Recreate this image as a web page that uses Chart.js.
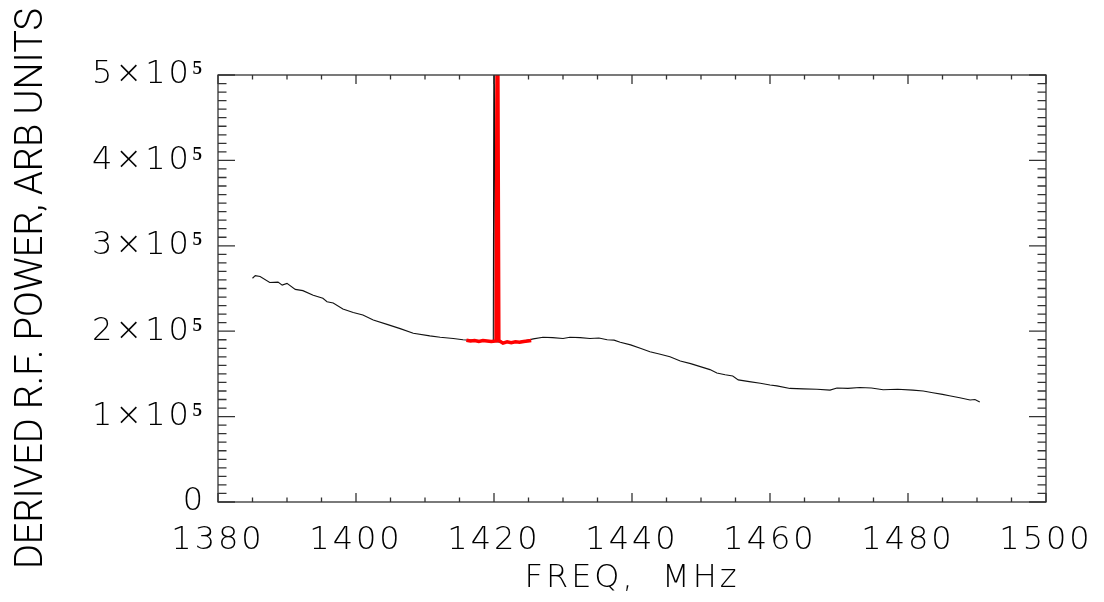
<!DOCTYPE html>
<html lang="en">

<head>
    <meta charset="UTF-8">
    <title>Derived RF power</title>
    <script src="https://cdn.jsdelivr.net/npm/chart.js/dist/chart.umd.min.js"></script>
    <style>
        body { margin: 0; background: #fff; overflow: hidden; }
    </style>
</head>

<body>
    <canvas id="myChart" width="1104" height="602"></canvas>
    <script>
        // full spectrum (black)
        const freqAll = [1385.0, 1385.4, 1386.1, 1387.5, 1388.7, 1389.3, 1390.0, 1391.2, 1392.3, 1393.8,
            1395.2, 1395.8, 1396.7, 1398.1, 1399.6, 1401.0, 1402.5, 1404.5, 1406.4, 1408.3,
            1410.7, 1412.2, 1414.1, 1415.5, 1416.5, 1418.0, 1419.5, 1419.9, 1420.0, 1420.2,
            1421.3, 1422.8, 1424.3, 1425.7, 1427.1, 1428.5, 1430.0, 1431.0, 1432.5, 1433.9,
            1435.2, 1436.4, 1437.4, 1438.3, 1439.8, 1441.2, 1442.6, 1444.1, 1445.5, 1447.0,
            1448.5, 1449.9, 1451.3, 1452.3, 1453.5, 1454.6, 1455.4, 1457.0, 1458.6, 1460.0,
            1461.0, 1462.9, 1464.8, 1466.8, 1468.7, 1469.7, 1471.3, 1473.0, 1474.7, 1476.4,
            1478.5, 1480.7, 1482.2, 1483.6, 1485.0, 1486.0, 1487.5, 1489.0, 1489.7, 1490.4];
        const powerAll = [2.62, 2.65, 2.64, 2.57, 2.575, 2.54, 2.56, 2.49, 2.475, 2.42,
            2.385, 2.345, 2.33, 2.26, 2.22, 2.19, 2.13, 2.08, 2.03, 1.975,
            1.945, 1.93, 1.915, 1.90, 1.895, 1.89, 1.885, 1.89, 6.0, 1.88,
            1.865, 1.87, 1.885, 1.91, 1.93, 1.925, 1.915, 1.93, 1.925, 1.915,
            1.92, 1.90, 1.895, 1.87, 1.84, 1.80, 1.76, 1.73, 1.70, 1.65,
            1.62, 1.585, 1.55, 1.51, 1.49, 1.475, 1.43, 1.41, 1.39, 1.37,
            1.36, 1.33, 1.325, 1.32, 1.31, 1.335, 1.33, 1.34, 1.335, 1.315,
            1.32, 1.31, 1.30, 1.28, 1.26, 1.245, 1.22, 1.195, 1.20, 1.17];

        // zoomed window around the HI line (red)
        const freqLine = [1416.0, 1416.6, 1417.2, 1417.8, 1418.4, 1419.0, 1419.6, 1420.3, 1420.5,
            1420.7, 1421.3, 1421.9, 1422.5, 1423.1, 1423.7, 1424.3, 1424.9, 1425.4];
        const powerLine = [1.895, 1.885, 1.89, 1.88, 1.89, 1.885, 1.88, 1.885, 6.5,
            1.89, 1.86, 1.875, 1.865, 1.875, 1.87, 1.88, 1.885, 1.89];

        const xTicks = [1380, 1400, 1420, 1440, 1460, 1480, 1500];
        const yTicks = [0, 1e5, 2e5, 3e5, 4e5, 5e5];

        const FONT = { family: 'DejaVu Sans', size: 32, weight: 300 };
        const XTICK_FONT = { family: 'DejaVu Sans', size: 32, weight: 300, lineHeight: 1.4 };
        const YTITLE_FONT = { family: 'Roboto, Liberation Sans Narrow, DejaVu Sans', size: 38, weight: 300 };

        function toPoints(xs, ys) {
            return xs.map((x, i) => ({ x: x, y: ys[i] * 1e5 }));
        }

        // the old vector font is widely spaced, so give text some letter spacing
        function spaced(scale, withTitle) {
            if (scale._spaced) return;
            const wrap = fn => function () {
                this.ctx.save();
                this.ctx.letterSpacing = '3px';
                fn.apply(this, arguments);
                this.ctx.restore();
            };
            scale.drawLabels = wrap(scale.drawLabels);
            if (withTitle) scale.drawTitle = wrap(scale.drawTitle);
            scale._spaced = true;
        }

        // IDL style box with inward ticks on all four sides
        const frameTicks = {
            id: 'frameTicks',
            afterDraw(chart) {
                const { ctx, chartArea: a, scales } = chart;
                const xs = scales.x, ys = scales.y;
                ctx.save();
                ctx.strokeStyle = '#333';
                ctx.lineWidth = 1.3;
                ctx.strokeRect(a.left, a.top, a.right - a.left, a.bottom - a.top);
                ctx.beginPath();
                for (let f = 1380; f <= 1500; f += 5) {
                    const px = xs.getPixelForValue(f);
                    const len = f % 20 === 0 ? 9 : 4.5;
                    ctx.moveTo(px, a.bottom); ctx.lineTo(px, a.bottom - len);
                    ctx.moveTo(px, a.top); ctx.lineTo(px, a.top + len);
                }
                for (let v = 0; v <= 5e5; v += 1e4) {
                    const py = ys.getPixelForValue(v);
                    const len = v % 1e5 === 0 ? 17 : 8.5;
                    ctx.moveTo(a.left, py); ctx.lineTo(a.left + len, py);
                    ctx.moveTo(a.right, py); ctx.lineTo(a.right - len, py);
                }
                ctx.stroke();
                ctx.restore();
            }
        };

        const ctx = document.getElementById('myChart').getContext('2d');
        const myChart = new Chart(ctx, {
            type: 'line',
            data: {
                datasets: [{
                    label: 'HI line',
                    data: toPoints(freqLine, powerLine),
                    borderColor: '#ff0000',
                    borderWidth: 3.5,
                    pointRadius: 0,
                    tension: 0
                }, {
                    label: 'Spectrum',
                    data: toPoints(freqAll, powerAll),
                    borderColor: '#111111',
                    borderWidth: 1.1,
                    pointRadius: 0,
                    tension: 0
                }]
            },
            options: {
                responsive: false,
                animation: false,
                devicePixelRatio: 1,
                layout: { padding: { left: 0, right: 58, top: 75, bottom: 0 } },
                plugins: { legend: { display: false }, tooltip: { enabled: false } },
                scales: {
                    x: {
                        type: 'linear',
                        min: 1380,
                        max: 1500,
                        grid: { display: false, drawTicks: false },
                        border: { display: false },
                        afterBuildTicks: s => { s.ticks = xTicks.map(v => ({ value: v })); },
                        afterFit: s => { s.height = 100; spaced(s, true); },
                        ticks: {
                            font: XTICK_FONT, color: '#000', padding: 16, maxRotation: 0, autoSkip: false,
                            callback: v => String(v)
                        },
                        title: {
                            display: true, text: 'FREQ,  MHz', font: FONT, color: '#000',
                            padding: { top: 0, bottom: 4 }
                        }
                    },
                    y: {
                        min: 0,
                        max: 5e5,
                        grid: { display: false, drawTicks: false },
                        border: { display: false },
                        afterBuildTicks: s => { s.ticks = yTicks.map(v => ({ value: v })); },
                        afterFit: s => { s.width = 218; spaced(s, false); },
                        ticks: {
                            font: FONT, color: '#000', padding: 12,
                            callback: v => v === 0 ? '0' : (v / 1e5) + '×10⁵'
                        },
                        title: {
                            display: true, text: 'DERIVED R.F. POWER, ARB UNITS', font: YTITLE_FONT, color: '#000',
                            padding: { top: 10, bottom: 0 }
                        }
                    }
                }
            },
            plugins: [frameTicks]
        });
    </script>
</body>

</html>
